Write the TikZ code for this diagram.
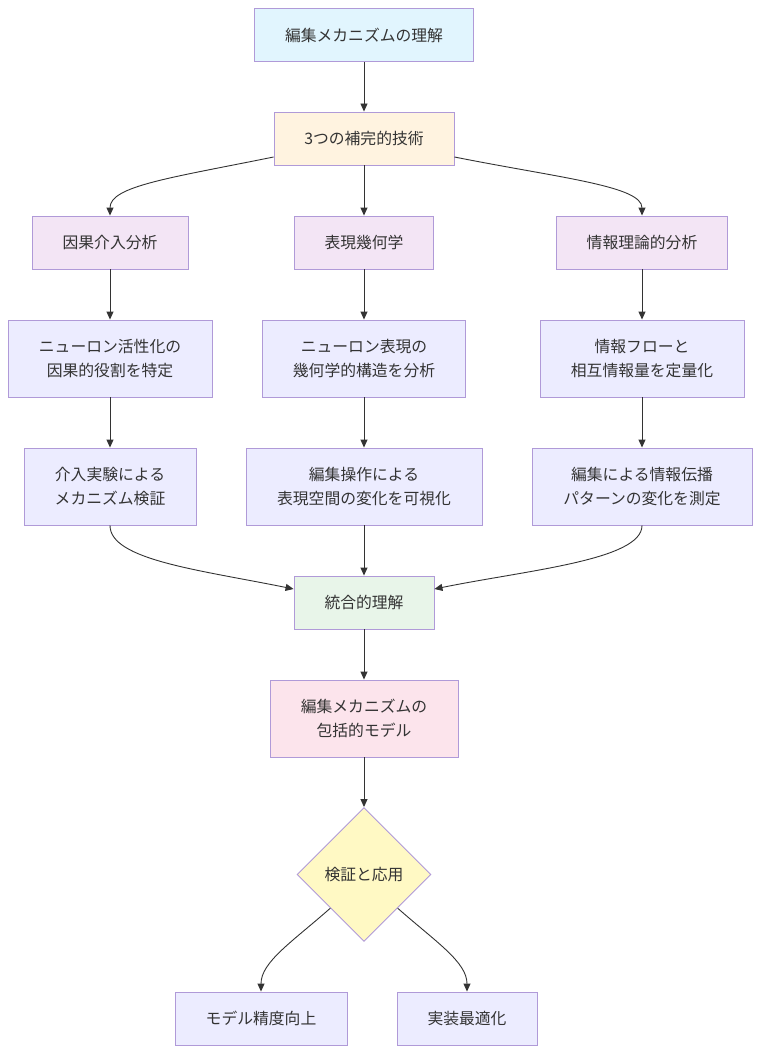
\documentclass[tikz,border=0pt]{standalone}
\usepackage{fontspec}
\setmainfont{Noto Sans CJK JP}
\usetikzlibrary{shapes.geometric,arrows.meta}
\definecolor{txt}{HTML}{333333}
\definecolor{edge}{HTML}{333333}
\definecolor{bord}{HTML}{B09AD8}
\definecolor{fA}{HTML}{E1F5FE}
\definecolor{fB}{HTML}{FFF3E0}
\definecolor{fC}{HTML}{F3E5F5}
\definecolor{fD}{HTML}{ECECFF}
\definecolor{fF}{HTML}{E8F5E9}
\definecolor{fG}{HTML}{FCE4EC}
\definecolor{fH}{HTML}{FFF9C4}
\tikzset{
  box/.style={draw=bord, line width=0.9pt, rectangle, inner sep=0pt, align=center,
    text=txt, font=\fontsize{15.8}{24.5}\selectfont, minimum height=53pt},
  tall/.style={box, minimum height=77pt},
  dia/.style={draw=bord, line width=0.9pt, diamond, aspect=1, inner sep=0pt,
    minimum width=134pt, minimum height=134pt, fill=fH, text=txt,
    font=\fontsize{15.8}{24.5}\selectfont},
  arr/.style={draw=edge, line width=0.9pt, -{Triangle[length=8pt,width=7pt]}}
}
\begin{document}
\begin{tikzpicture}[x=1pt,y=-1pt]
\useasboundingbox (0,0) rectangle (760,1054);
\node[box, fill=fA, minimum width=219pt] (A) at (364,35) {編集メカニズムの理解};
\node[box, fill=fB, minimum width=180pt] (B) at (364,138.5) {3つの補完的技術};
\node[box, fill=fC, minimum width=156pt] (C1) at (110,242.5) {因果介入分析};
\node[box, fill=fC, minimum width=139pt] (C2) at (364,242.5) {表現幾何学};
\node[box, fill=fC, minimum width=171pt] (C3) at (642,242.5) {情報理論的分析};
\node[tall, fill=fD, minimum width=204pt] (D1) at (110,358.5) {ニューロン活性化の\\因果的役割を特定};
\node[tall, fill=fD, minimum width=203pt] (D2) at (364,358.5) {ニューロン表現の\\幾何学的構造を分析};
\node[tall, fill=fD, minimum width=204pt] (D3) at (642,358.5) {情報フローと\\相互情報量を定量化};
\node[tall, fill=fD, minimum width=172pt] (E1) at (110,486.5) {介入実験による\\メカニズム検証};
\node[tall, fill=fD, minimum width=236pt] (E2) at (364,486.5) {編集操作による\\表現空間の変化を可視化};
\node[tall, fill=fD, minimum width=220pt] (E3) at (642,486.5) {編集による情報伝播\\パターンの変化を測定};
\node[box, fill=fF, minimum width=140pt] (F) at (364,602.5) {統合的理解};
\node[tall, fill=fG, minimum width=188pt] (G) at (364,718.5) {編集メカニズムの\\包括的モデル};
\node[dia] (H) at (364,874.5) {検証と応用};
\node[box, fill=fD, minimum width=172pt] (I1) at (261,1018.5) {モデル精度向上};
\node[box, fill=fD, minimum width=140pt] (I2) at (467,1018.5) {実装最適化};

\draw[arr] (A) -- (B);
\draw[arr] (B) -- (C2);
\draw[arr] (B.west |- 0,157) .. controls (170,178) and (110,186) .. (C1.north);
\draw[arr] (B.east |- 0,157) .. controls (560,178) and (642,186) .. (C3.north);
\draw[arr] (C1) -- (D1);
\draw[arr] (C2) -- (D2);
\draw[arr] (C3) -- (D3);
\draw[arr] (D1) -- (E1);
\draw[arr] (D2) -- (E2);
\draw[arr] (D3) -- (E3);
\draw[arr] (E1.south) .. controls (110,560) and (200,570) .. (F.west |- 0,589);
\draw[arr] (E2) -- (F);
\draw[arr] (E3.south) .. controls (642,560) and (528,570) .. (F.east |- 0,589);
\draw[arr] (F) -- (G);
\draw[arr] (G) -- (H);
\draw[arr] (H.south west) .. controls (292,942) and (261,962) .. (I1.north);
\draw[arr] (H.south east) .. controls (436,942) and (467,962) .. (I2.north);
\end{tikzpicture}
\end{document}
